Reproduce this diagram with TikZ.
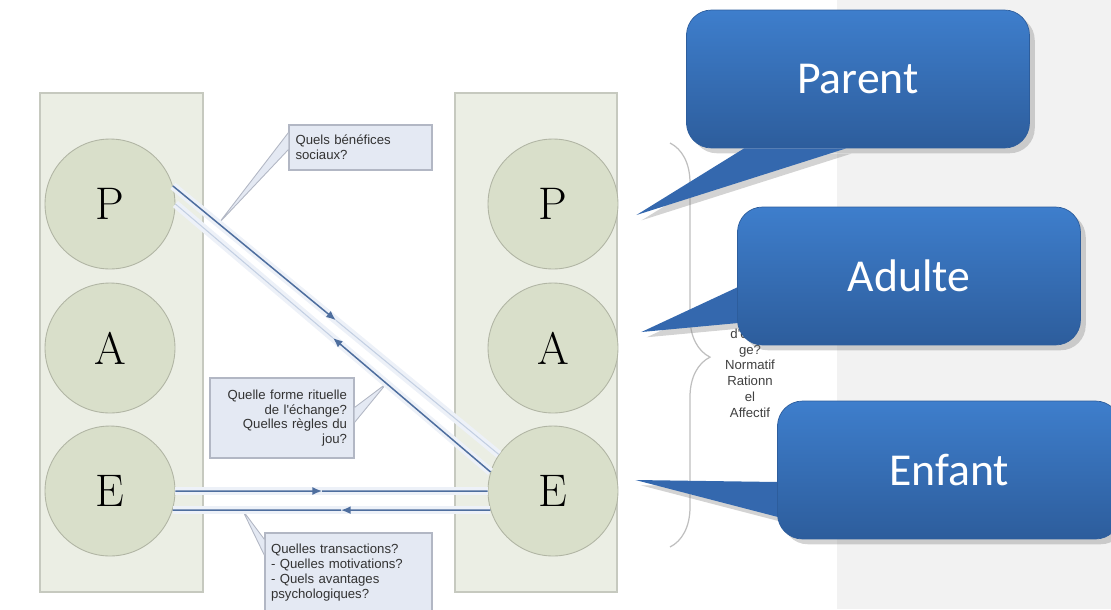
\documentclass[tikz,border=0pt]{standalone}
\usepackage{fontspec}
\newfontfamily\bubblefont{Carlito}
\newfontfamily\notefont{Liberation Sans}
\usetikzlibrary{shadows,decorations.pathreplacing,arrows.meta,calc}

\definecolor{panelfill}{HTML}{EBEEE4}
\definecolor{panelline}{HTML}{C6C9BF}
\definecolor{egofill}{HTML}{D9DFCA}
\definecolor{egoline}{HTML}{B1B5A4}
\definecolor{notefill}{HTML}{E4E9F3}
\definecolor{noteline}{HTML}{B2B7C4}
\definecolor{wirecol}{HTML}{4E6E9E}
\definecolor{fadecol}{HTML}{C3CFE2}
\definecolor{bandcol}{HTML}{EDF1F8}
\definecolor{bubbletop}{HTML}{3E7ECC}
\definecolor{bubblebot}{HTML}{2D5D9C}
\definecolor{bubbletip}{HTML}{3468AE}
\definecolor{sidebg}{HTML}{F2F2F2}

\begin{document}
\begin{tikzpicture}[x=0.02cm,y=0.02cm,
    panel/.style={fill=panelfill,draw=panelline,line width=0.6pt},
    ego/.style={circle,fill=egofill,draw=egoline,line width=0.5pt,minimum size=2.6cm,inner sep=0pt,font=\fontsize{26}{26}\selectfont},
    note/.style={draw=noteline,fill=notefill,line width=0.6pt,inner sep=3pt,text=black!80,font=\notefont\fontsize{7.5}{8.4}\selectfont},
    wedge/.style={fill=notefill,draw=noteline,line width=0.5pt},
    band/.style={draw=bandcol,line width=4.5pt},
    msg/.style={draw=wirecol,line width=0.85pt,-{Latex[length=5.5pt,width=4.5pt]}},
    wire/.style={draw=wirecol,line width=0.85pt},
    fade/.style={draw=fadecol,line width=0.6pt},
    bracket/.style={decorate,decoration={brace,amplitude=0.8cm,aspect=0.53},draw=black!25,line width=0.7pt},
    bubble/.style={rounded corners=0.5cm,top color=bubbletop,bottom color=bubblebot,draw=bubblebot,line width=0.4pt,
      text=white,font=\bubblefont\fontsize{26}{30}\selectfont,minimum width=6.86cm,minimum height=2.76cm,
      drop shadow={opacity=.35,shadow xshift=3pt,shadow yshift=-3pt}},
    bubbletail/.style={fill=bubbletip,drop shadow={opacity=.35,shadow xshift=3pt,shadow yshift=-3pt}}]
    \useasboundingbox (0,0) rectangle (1111,-609);
    \fill[sidebg] (837,0) rectangle (1111,-609);
    \draw[panel] (40,-93) rectangle (203,-592);
    \draw[panel] (455,-93) rectangle (617,-592);
    \node[ego] (lP) at (110,-204) {P};
    \node[ego] (lA) at (110,-348) {A};
    \node[ego] (lE) at (110,-491) {E};
    \node[ego] (rP) at (553,-204) {P};
    \node[ego] (rA) at (553,-348) {A};
    \node[ego] (rE) at (553,-491) {E};
    \coordinate (m1) at ($(lP.16)!.5!(rE.146)$);
    \coordinate (m2) at ($(rE.163)!.5!(lP.0)$);
    \coordinate (m3) at ($(lE.east)!.47!(rE.west)$);
    \coordinate (m4) at ($(rE.197)!.47!(lE.-17)$);
    \coordinate (t1) at ($(lP.16)!.14!(rE.146)$);
    \coordinate (t2) at ($(rE.163)!.33!(lP.0)$);
    \coordinate (t3) at ($(lE.-17)!.22!(rE.197)$);
    \node[note,minimum width=2.86cm,minimum height=0.9cm,text width=2.6cm,align=left] (q1) at (360.5,-147.5) {Quels bénéfices\\sociaux?};
    \node[note,minimum width=2.88cm,minimum height=1.6cm,text width=2.6cm,align=right] (q2) at (282,-418) {Quelle forme rituelle\\de l'échange?\\Quelles règles du\\jou?};
    \node[note,minimum width=3.34cm,minimum height=1.58cm,text width=3.1cm,align=left] (q3) at (348.5,-572.5) {Quelles transactions?\\- Quelles motivations?\\- Quels avantages\\psychologiques?};
    \path[wedge] ($(q1.north west)+(0,-8)$) -- (t1) -- ($(q1.north west)+(0,-25)$);
    \path[wedge] ($(q2.north east)+(0,-30)$) -- (t2) -- ($(q2.north east)+(0,-45)$);
    \path[wedge] ($(q3.north west)+(0,-7)$) -- (t3) -- ($(q3.north west)+(0,-23)$);
    \draw[band] (lP.16) -- (rE.146);
    \draw[band] (rE.163) -- (lP.0);
    \draw[band] (lE.east) -- (rE.west);
    \draw[band] (rE.197) -- (lE.-17);
    \draw[fade] (m1) -- (rE.146);
    \draw[fade] (m2) -- (lP.0);
    \draw[msg] (lP.16) -- (m1);
    \draw[msg] (rE.163) -- (m2);
    \draw[msg] (lE.east) -- (m3);
    \draw[wire] (m3) -- (rE.west);
    \draw[msg] (rE.197) -- (m4);
    \draw[wire] (m4) -- (lE.-17);
    \draw[bracket] (670,-143) -- (670,-547);
    \node[text=black!75,align=center,font=\notefont\fontsize{7.5}{9}\selectfont] (roles) at (750,-373) {d'enga\\ge?\\Normatif\\Rationn\\el\\Affectif};
    \node[bubble] (parent) at (858,-79) {Parent};
    \fill[bubbletail] ($(parent.south west)+(58,0)$) -- ([xshift=0.36cm,yshift=-0.22cm]rP.east) -- ($(parent.south west)+(160,0)$) -- cycle;
    \fill[bubbletail] (738,-287) -- ([xshift=0.46cm,yshift=0.32cm]rA.east) -- (738,-323) -- cycle;
    \node[bubble] (adulte) at (909,-276) {Adulte};
    \fill[bubbletail] (778,-482) -- ([xshift=0.34cm,yshift=0.22cm]rE.east) -- (778,-517) -- cycle;
    \node[bubble] (enfant) at (949,-470) {Enfant};
\end{tikzpicture}
\end{document}
